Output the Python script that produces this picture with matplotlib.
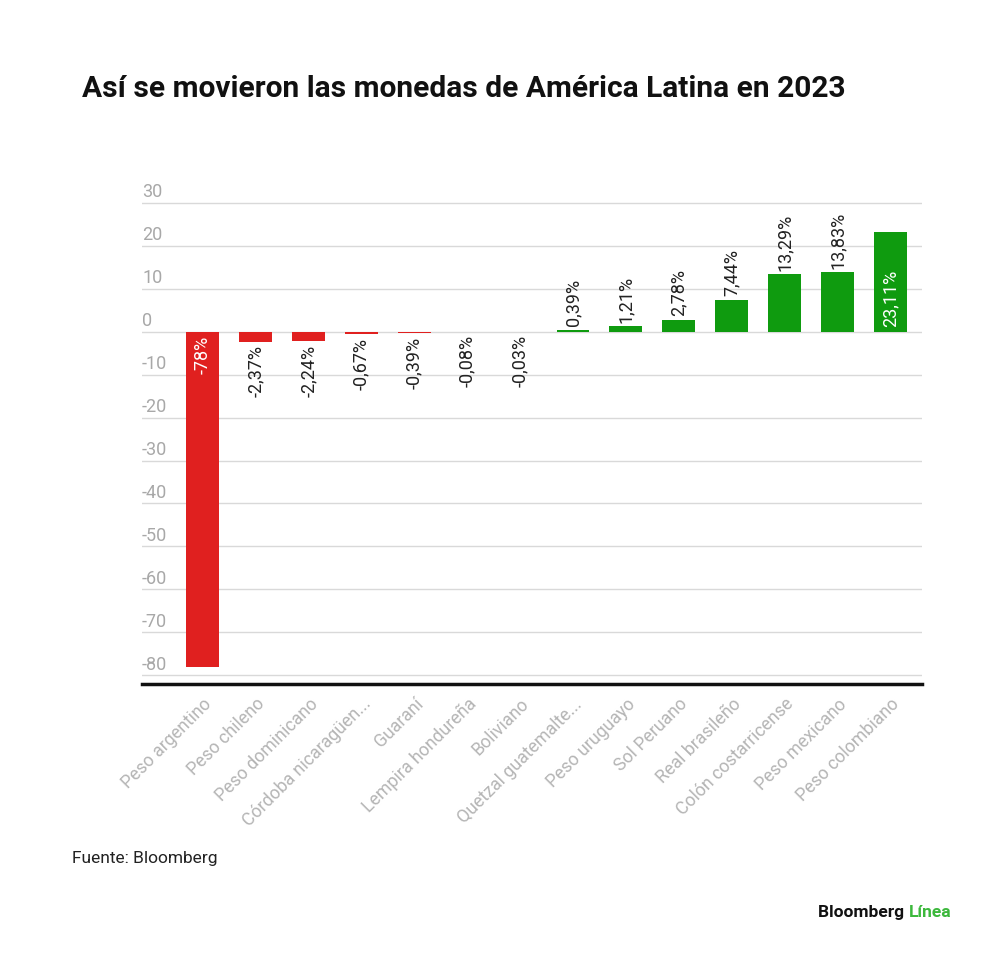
import matplotlib
matplotlib.use("Agg")
import matplotlib.pyplot as plt
import matplotlib.transforms as mtransforms

categories = ["Peso argentino", "Peso chileno", "Peso dominicano", "Córdoba nicaragüen...",
              "Guaraní", "Lempira hondureña", "Boliviano", "Quetzal guatemalte...",
              "Peso uruguayo", "Sol Peruano", "Real brasileño", "Colón costarricense",
              "Peso mexicano", "Peso colombiano"]
values = [-78, -2.37, -2.24, -0.67, -0.39, -0.08, -0.03, 0.39, 1.21, 2.78, 7.44, 13.29, 13.83, 23.11]
value_labels = ["-78%", "-2,37%", "-2,24%", "-0,67%", "-0,39%", "-0,08%", "-0,03%",
                "0,39%", "1,21%", "2,78%", "7,44%", "13,29%", "13,83%", "23,11%"]
yticks = [30, 20, 10, 0, -10, -20, -30, -40, -50, -60, -70, -80]

RED = "#e0201f"
GREEN = "#0f9b0f"

plt.rcParams['font.family'] = ['Roboto', 'DejaVu Sans']

fig = plt.figure(figsize=(10, 9.55), dpi=100)
ax = fig.add_axes([0.142, 0.2838, 0.78, 0.5085])

x = list(range(len(categories)))
colors = [RED if v < 0 else GREEN for v in values]
ax.bar(x, values, width=0.62, color=colors, zorder=3)

ax.set_xlim(-1.15, 13.6)
ax.set_ylim(-82, 31)

# gridlines
for t in yticks:
    ax.axhline(t, color="#d9d9d9", lw=1, zorder=1)

trans = mtransforms.blended_transform_factory(ax.transAxes, ax.transData)
for t in yticks:
    ax.text(0.0, t + 0.4, str(t), transform=trans, ha="left", va="bottom",
            fontsize=13, color="#a8a8a8")

ax.set_yticks([])
ax.set_xticks(x)
ax.set_xticklabels(categories, rotation=45, ha="right", rotation_mode="anchor",
                   fontsize=12.8, color="#b5b5b5")
ax.tick_params(axis="x", length=0, pad=8)

for s in ["top", "left", "right"]:
    ax.spines[s].set_visible(False)
ax.spines["bottom"].set_color("#111111")
ax.spines["bottom"].set_linewidth(2.5)

# value labels
fs = 13
for i, (v, lab) in enumerate(zip(values, value_labels)):
    if i == 0:
        ax.text(i, -1.0, lab, rotation=90, ha="center", va="top",
                fontsize=fs, color="white", zorder=4)
    elif i == len(values) - 1:
        ax.text(i, 1.0, lab, rotation=90, ha="center", va="bottom",
                fontsize=fs, color="white", zorder=4)
    elif v < 0:
        ax.text(i, v - 0.8, lab, rotation=90, ha="center", va="top",
                fontsize=fs, color="#222222", zorder=4)
    else:
        ax.text(i, v + 0.8, lab, rotation=90, ha="center", va="bottom",
                fontsize=fs, color="#222222", zorder=4)

fig.text(0.082, 0.907, "Así se movieron las monedas de América Latina en 2023",
         fontsize=21.5, fontweight="bold", color="#111111", ha="left", va="center")

fig.text(0.072, 0.101, "Fuente: Bloomberg", fontsize=12.5, color="#222222",
         ha="left", va="center")

t1 = fig.text(0.818, 0.045, "Bloomberg ", fontsize=12.5, fontweight="bold",
              color="#111111", ha="left", va="center")
fig.canvas.draw()
bb = t1.get_window_extent()
fig.text(bb.x1 / fig.bbox.width, 0.045, "Línea", fontsize=12.5, fontweight="bold",
         color="#3cb83c", ha="left", va="center")

fig.savefig("out.png", dpi=100, facecolor="white")
